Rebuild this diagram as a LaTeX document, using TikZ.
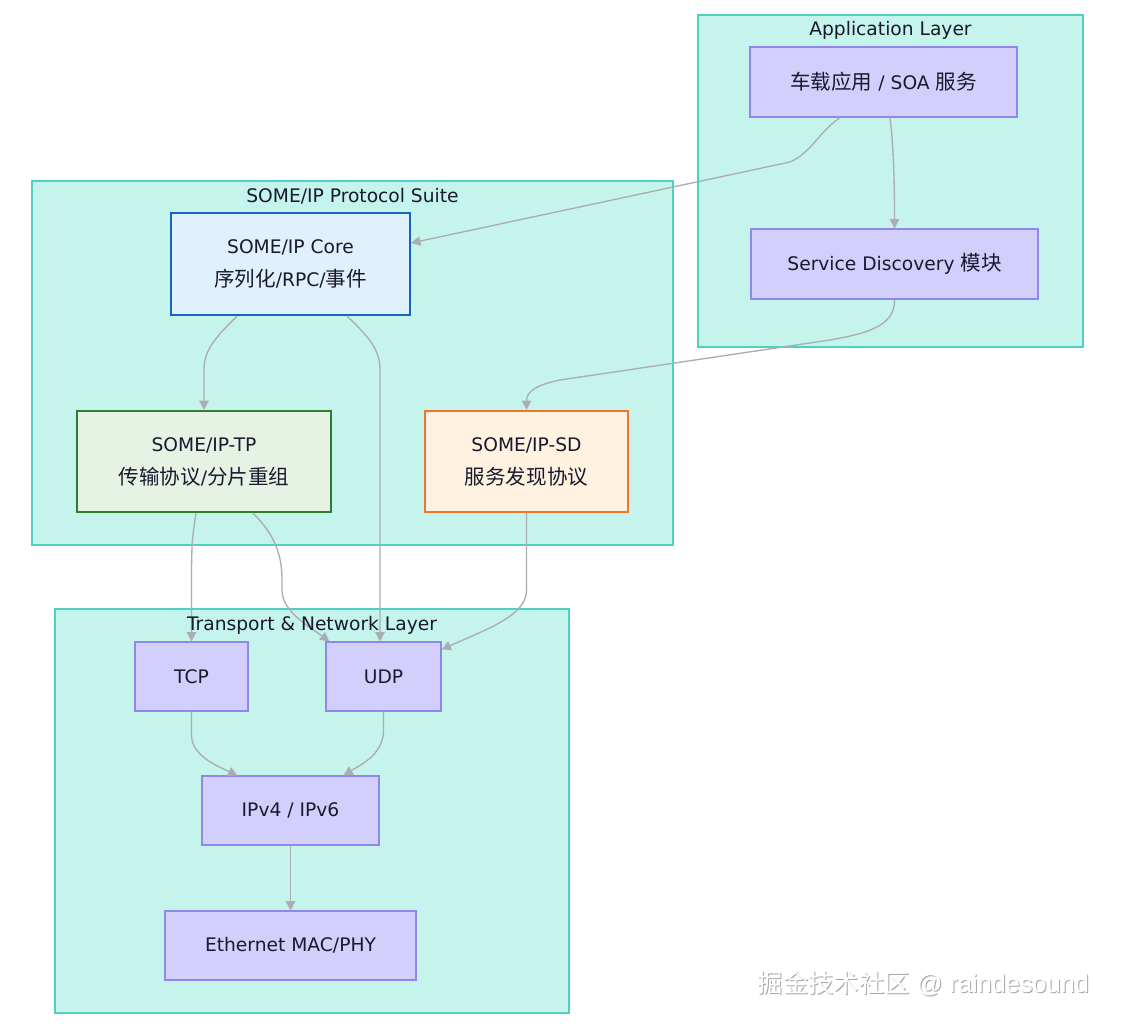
\documentclass[tikz,border=0pt]{standalone}
\usepackage{fontspec}
\setmainfont{DejaVu Sans}
\newfontfamily\cjk[Scale=1.1]{Noto Sans CJK SC}
\newfontfamily\cjkw{Noto Sans CJK SC}
\newfontfamily\wmfont{Liberation Sans}
\usetikzlibrary{arrows.meta,calc}
\newcommand\zh[1]{{\cjk #1}}
\definecolor{clfill}{RGB}{196,244,236}
\definecolor{cldraw}{RGB}{79,208,195}
\definecolor{ndfill}{RGB}{210,207,252}
\definecolor{nddraw}{RGB}{145,135,235}
\definecolor{txt}{RGB}{25,25,45}
\definecolor{edgec}{RGB}{172,172,180}
\definecolor{corefill}{RGB}{224,240,252}
\definecolor{coredraw}{RGB}{21,101,192}
\definecolor{tpfill}{RGB}{230,243,228}
\definecolor{tpdraw}{RGB}{46,125,50}
\definecolor{sdfill}{RGB}{255,242,224}
\definecolor{sddraw}{RGB}{240,118,45}
\tikzset{
  x=0.75pt,y=-0.75pt,
  cluster/.style={draw=cldraw,fill=clfill,line width=1.1pt,inner sep=0pt},
  cltitle/.style={text=txt,font=\fontsize{14}{16}\selectfont,inner sep=0pt},
  box/.style={draw=nddraw,fill=ndfill,line width=0.8pt,text=txt,align=center,
    font=\fontsize{14}{24.75}\selectfont,inner sep=0pt},
  special/.style={box,line width=1.6pt},
  edge/.style={draw=edgec,line width=1pt,-{Triangle[length=7pt,width=7pt]}},
}
\begin{document}
\begin{tikzpicture}
\useasboundingbox (0,0) rectangle (1121,1025);
\fill[white] (0,0) rectangle (1121,1025);
% clusters
\node[cluster,minimum width=288.75pt,minimum height=249pt] (appL) at (890.5,181) {};
\node[cltitle] (appT) at (890.5,30) {Application Layer};
\node[cluster,minimum width=480.75pt,minimum height=273pt] (suite) at (352.5,363) {};
\node[cltitle] (suiteT) at (352.5,196) {SOME/IP Protocol Suite};
\node[cluster,minimum width=385.5pt,minimum height=303pt] (trans) at (312,811) {};
% nodes
\node[box,minimum width=200.25pt,minimum height=52.5pt] (app) at (883.5,82) {\zh{车载应用} / SOA \zh{服务}};
\node[box,minimum width=215.25pt,minimum height=52.5pt] (sdm) at (894.5,264) {Service Discovery \zh{模块}};
\node[special,draw=coredraw,fill=corefill,minimum width=179.25pt,minimum height=76.5pt] (core) at (290.5,264) {SOME/IP Core\\\zh{序列化}/RPC/\zh{事件}};
\node[special,draw=tpdraw,fill=tpfill,minimum width=190.5pt,minimum height=75.75pt] (tp) at (204,461.5) {SOME/IP-TP\\\zh{传输协议}/\zh{分片重组}};
\node[special,draw=sddraw,fill=sdfill,minimum width=152.25pt,minimum height=75.75pt] (sd) at (526.5,461.5) {SOME/IP-SD\\\zh{服务发现协议}};
\node[box,minimum width=84.75pt,minimum height=51.75pt] (tcp) at (191.5,676.5) {TCP};
\node[box,minimum width=86.25pt,minimum height=51.75pt] (udp) at (383.5,676.5) {UDP};
\node[box,minimum width=132.75pt,minimum height=51.75pt] (ip) at (290.5,810.5) {IPv4 / IPv6};
\node[box,minimum width=188.25pt,minimum height=51.75pt] (eth) at (290.5,945.5) {Ethernet MAC/PHY};
% edges
\draw[edge] ($(app.south)+(-43.5,0)$) .. controls (818,133) and (812,152) .. (790,162) -- ($(core.east)+(0,-21)$);
\draw[edge] ($(app.south)+(6.5,0)$) .. controls (894,150) and (894.5,190) .. (sdm.north);
\draw[edge] (sdm.south) .. controls (895,325) and (870,333) .. (830,340) -- (560,380) .. controls (530,386) and (526.5,395) .. (sd.north);
\draw[edge] ($(core.south)+(-53.5,0)$) .. controls (215,338) and (204,350) .. (204,370) -- (tp.north);
\draw[edge] ($(core.south)+(56.5,0)$) .. controls (370,338) and (380,350) .. (380,370) -- ($(udp.north)+(-3.5,0)$);
\draw[edge] ($(tp.south)+(-8,0)$) .. controls (192,540) .. (191.5,570) -- (tcp.north);
\draw[edge] ($(tp.south)+(49,0)$) .. controls (275,535) and (282,555) .. (282,580) -- (282,590) .. controls (282,612) and (310,627) .. ($(udp.north west)+(4,0)$);
\draw[edge] (sd.south) -- (526.5,590) .. controls (526.5,615) and (490,628) .. ($(udp.north east)+(0,8)$);
\draw[edge] (tcp.south) -- (191.5,735) .. controls (191.5,755) and (215,765) .. ($(ip.north west)+(36,0)$);
\draw[edge] (udp.south) -- (383.5,730) .. controls (383.5,755) and (360,765) .. ($(ip.north east)+(-36,0)$);
\draw[edge] (ip.south) -- (eth.north);
% title of transport drawn over edges
\node[cltitle] (transT) at (312,625) {Transport \& Network Layer};
% watermark
\node[text=gray!70,font=\fontsize{19}{21}\selectfont\wmfont,inner sep=0pt] (wms) at (924.5,984) {{\cjkw 掘金技术社区} @ raindesound};
\node[text=white,font=\fontsize{19}{21}\selectfont\wmfont,inner sep=0pt] (wm) at (923.5,983) {{\cjkw 掘金技术社区} @ raindesound};
\end{tikzpicture}
\end{document}
